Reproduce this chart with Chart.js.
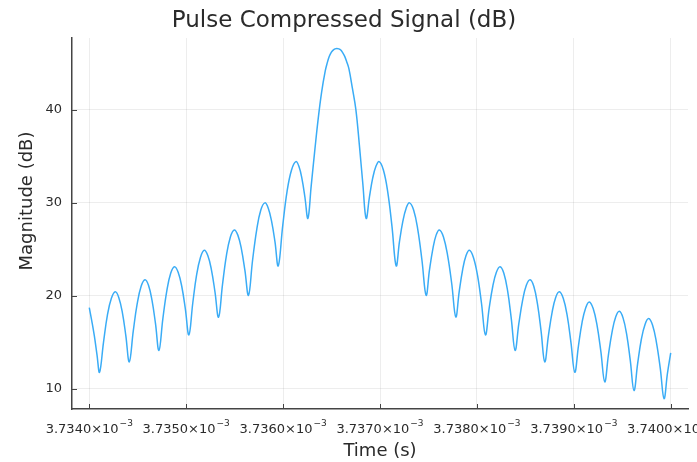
<!DOCTYPE html>
<html>
<head>
<meta charset="utf-8">
<script src="https://cdn.jsdelivr.net/npm/chart.js@4.4.1/dist/chart.umd.min.js"></script>
<style>
  html, body { margin: 0; padding: 0; background: #fff; }
</style>
</head>
<body>
<canvas id="chart" width="697" height="462"></canvas>
<script>
// time, in microseconds after 3.7340e-3 s
const timeUs = [
  0.000, 0.027, 0.053, 0.080, 0.106, 0.147, 0.187, 0.228, 0.268, 0.304,
  0.341, 0.377, 0.413, 0.454, 0.494, 0.535, 0.575, 0.611, 0.647, 0.683,
  0.719, 0.759, 0.800, 0.840, 0.880, 0.917, 0.954, 0.991, 1.028, 1.068,
  1.107, 1.147, 1.186, 1.223, 1.260, 1.297, 1.334, 1.375, 1.415, 1.456,
  1.496, 1.533, 1.570, 1.606, 1.643, 1.685, 1.728, 1.770, 1.812, 1.847,
  1.881, 1.916, 1.950, 1.996, 2.041, 2.087, 2.132, 2.163, 2.194, 2.225,
  2.256, 2.290, 2.326, 2.362, 2.398, 2.434, 2.455, 2.476, 2.497, 2.517,
  2.536, 2.555, 2.575, 2.595, 2.616, 2.637, 2.658, 2.679, 2.715, 2.751,
  2.787, 2.823, 2.857, 2.891, 2.924, 2.958,
  2.991, 3.035, 3.079, 3.123, 3.167, 3.201, 3.236, 3.270, 3.304, 3.347,
  3.390, 3.433, 3.476, 3.510, 3.545, 3.579, 3.613, 3.655, 3.698, 3.740,
  3.782, 3.817, 3.853, 3.888, 3.923, 3.964, 4.006, 4.047, 4.088, 4.126,
  4.164, 4.201, 4.239, 4.278, 4.317, 4.355, 4.394, 4.433, 4.472, 4.510,
  4.549, 4.587, 4.625, 4.662, 4.700, 4.738, 4.776, 4.813, 4.851, 4.891,
  4.931, 4.970, 5.010, 5.048, 5.085, 5.123, 5.160, 5.200, 5.240, 5.279,
  5.319, 5.357, 5.395, 5.432, 5.470, 5.508, 5.546, 5.583, 5.621, 5.659,
  5.697, 5.735, 5.773, 5.813, 5.852, 5.892, 5.931, 5.966, 6.000
];

const magnitudeDb = [
  18.7, 17.2, 15.6, 13.6, 11.75, 15.0, 17.9, 19.7, 20.4, 19.8,
  18.2, 15.7, 12.87, 16.2, 19.1, 21.0, 21.7, 21.1, 19.5, 17.0,
  14.1, 17.5, 20.5, 22.4, 23.1, 22.5, 21.0, 18.6, 15.77, 19.2,
  22.2, 24.1, 24.87, 24.3, 22.8, 20.4, 17.67, 21.2, 24.3, 26.3,
  27.06, 26.5, 25.0, 22.7, 20.03, 23.8, 27.1, 29.2, 29.97, 29.4,
  28.0, 25.8, 23.2, 27.5, 31.2, 33.5, 34.4, 33.9, 32.6, 30.6,
  28.3, 31.8, 35.5, 39.0, 41.9, 44.1, 45.0, 45.7, 46.15, 46.4,
  46.53, 46.56, 46.53, 46.4, 46.1, 45.7, 45.1, 44.4, 42.3, 40.0,
  36.2, 32.0, 28.3, 30.6, 32.6, 33.9,
  34.4, 33.5, 31.2, 27.5, 23.2, 25.8, 28.0, 29.4, 29.97, 29.2,
  27.1, 23.8, 20.03, 22.7, 25.0, 26.5, 27.06, 26.3, 24.3, 21.3,
  17.7, 20.4, 22.8, 24.3, 24.87, 24.1, 22.2, 19.2, 15.77, 18.6,
  21.0, 22.5, 23.1, 22.4, 20.5, 17.5, 14.1, 17.0, 19.5, 21.1,
  21.7, 21.0, 19.1, 16.2, 12.87, 15.7, 18.2, 19.8, 20.4, 19.7,
  17.9, 15.0, 11.75, 14.6, 17.1, 18.7, 19.32, 18.6, 16.8, 14.0,
  10.72, 13.6, 16.1, 17.7, 18.31, 17.6, 15.8, 13.0, 9.78, 12.7,
  15.3, 16.9, 17.53, 16.8, 15.0, 12.2, 8.92, 11.6, 13.84
];

const xTicks = [3.7340e-3, 3.7350e-3, 3.7360e-3, 3.7370e-3, 3.7380e-3, 3.7390e-3, 3.7400e-3];
const xTickLabels = ['3.7340', '3.7350', '3.7360', '3.7370', '3.7380', '3.7390', '3.7400'];
const xTickExponent = '\u22123';
const yTicks = [10, 20, 30, 40];

const FONT = '"DejaVu Sans", sans-serif';
const ink = '#2b2b2b';

const points = timeUs.map((t, i) => ({ x: 3.734e-3 + t * 1e-6, y: magnitudeDb[i] }));

// title, axis guides, x tick labels with superscripts and inward tick marks
const decor = {
  id: 'decor',
  afterDraw(chart) {
    const { ctx, chartArea: a, scales: { x, y } } = chart;
    ctx.save();
    ctx.strokeStyle = '#444';
    ctx.lineWidth = 1;
    ctx.beginPath();
    xTicks.forEach(v => {
      const px = Math.round(x.getPixelForValue(v)) + 0.5;
      ctx.moveTo(px, a.bottom);
      ctx.lineTo(px, a.bottom - 5);
    });
    yTicks.forEach(v => {
      const py = Math.round(y.getPixelForValue(v)) + 0.5;
      ctx.moveTo(a.left, py);
      ctx.lineTo(a.left + 5, py);
    });
    ctx.stroke();

    ctx.fillStyle = ink;
    ctx.textAlign = 'left';
    ctx.textBaseline = 'alphabetic';
    xTicks.forEach((v, i) => {
      const main = xTickLabels[i] + '\u00d710';
      ctx.font = '13px ' + FONT;
      const w1 = ctx.measureText(main).width;
      ctx.font = '9px ' + FONT;
      const w2 = ctx.measureText(xTickExponent).width;
      const left = x.getPixelForValue(v) - (w1 + w2 + 1) / 2;
      ctx.font = '13px ' + FONT;
      ctx.fillText(main, left, 433);
      ctx.font = '9px ' + FONT;
      ctx.fillText(xTickExponent, left + w1 + 1, 426);
    });

    ctx.textAlign = 'center';
    ctx.font = '23px ' + FONT;
    ctx.fillText('Pulse Compressed Signal (dB)', 344, 27);

    ctx.font = '18px ' + FONT;
    ctx.fillText('Time (s)', (a.left + a.right) / 2, 456);

    ctx.translate(32, 201);
    ctx.rotate(-Math.PI / 2);
    ctx.fillText('Magnitude (dB)', 0, 0);
    ctx.restore();
  }
};

const config = {
  type: 'line',
  data: {
    datasets: [
      {
        label: 'Pulse',
        data: points,
        fill: false,
        borderColor: '#3aacf6',
        borderWidth: 1.5,
        pointRadius: 0,
        tension: 0.4,
      },
    ],
  },
  options: {
    responsive: false,
    animation: false,
    devicePixelRatio: 1,
    layout: { padding: { top: 38, right: 9, left: 0, bottom: 0 } },
    plugins: { legend: { display: false }, tooltip: { enabled: false } },
    scales: {
      x: {
        type: 'linear',
        min: 3.7338216e-3,
        max: 3.7401784e-3,
        afterBuildTicks: s => { s.ticks = xTicks.map(v => ({ value: v })); },
        afterFit: s => { s.height = 53; },
        ticks: { display: false },
        grid: { color: 'rgba(0,0,0,0.07)', drawTicks: false },
        border: { color: '#444', width: 1.5 },
      },
      y: {
        min: 7.8,
        max: 47.7,
        afterBuildTicks: s => { s.ticks = yTicks.map(v => ({ value: v })); },
        afterFit: s => { s.width = 72; },
        ticks: { font: { family: FONT, size: 13 }, color: ink, padding: 10 },
        grid: { color: 'rgba(0,0,0,0.07)', drawTicks: false },
        border: { color: '#444', width: 1.5 },
      },
    },
  },
  plugins: [decor],
};

window.onload = function () {
  const ctx = document.getElementById('chart').getContext('2d');
  window.chart = new Chart(ctx, config);
};
</script>
</body>
</html>
